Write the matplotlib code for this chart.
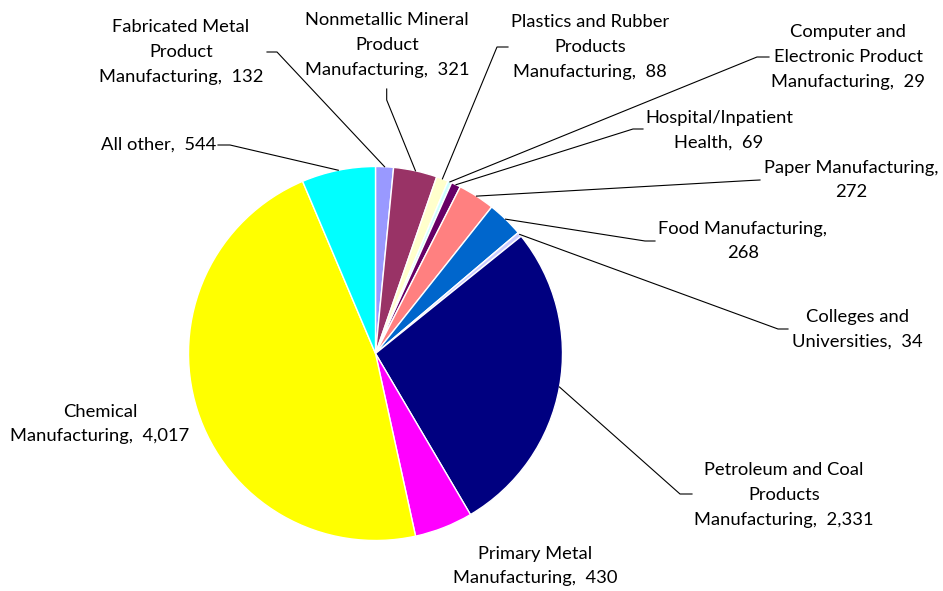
import numpy as np
import matplotlib
matplotlib.use("Agg")
from matplotlib import pyplot as plt

# data, clockwise from 12 o'clock
labels = ['Fabricated Metal\nProduct\nManufacturing,  132',
          'Nonmetallic Mineral\nProduct\nManufacturing,  321',
          'Plastics and Rubber\nProducts\nManufacturing,  88',
          'Computer and\nElectronic Product\nManufacturing,  29',
          'Hospital/Inpatient\nHealth,  69',
          'Paper Manufacturing,\n272',
          'Food Manufacturing,\n268',
          'Colleges and\nUniversities,  34',
          'Petroleum and Coal\nProducts\nManufacturing,  2,331',
          'Primary Metal\nManufacturing,  430',
          'Chemical\nManufacturing,  4,017',
          'All other,  544']
values = [132, 321, 88, 29, 69, 272, 268, 34, 2331, 430, 4017, 544]
colors = ['#9999FF', '#993366', '#FFFFCC', '#CCFFFF', '#660066', '#FF8080',
          '#0066CC', '#CCCCFF', '#000080', '#FF00FF', '#FFFF00', '#00FFFF']

# label layout in pixels (x, y from top), leader elbow and end (None = no leader)
W, H = 943, 591
label_pos = [(181, 52), (387, 45), (590, 47), (848, 57), (719, 130), (851, 180),
             (743, 241), (857, 329), (784, 495), (535, 566), (100, 424), (159, 145)]
leaders = [((277, 52), (267, 52)),
           ((386.7, 100), (386.7, 89)),
           ((497, 47), (508, 47)),
           ((757, 57), (769, 57)),
           ((633, 129), (643, 129)),
           ((750, 180.5), (760, 180)),
           ((645, 241), (655, 241)),
           ((778, 329), (788, 329)),
           ((680, 494), (692, 494)),
           None,
           None,
           ((230, 145), (218, 145))]

plt.rcParams['font.family'] = ['Lato', 'DejaVu Sans']

fig = plt.figure(figsize=(W / 100, H / 100), dpi=100)
ax = fig.add_axes([0, 0, 1, 1])

cx, cy, r = 375.5, H - 353.5, 187
wedges, _ = ax.pie(values, colors=colors, startangle=90, counterclock=False,
                   center=(cx, cy), radius=r,
                   wedgeprops=dict(edgecolor='white', linewidth=1.0))

for w, lab, pos, ld in zip(wedges, labels, label_pos, leaders):
    ax.text(pos[0], H - pos[1], lab, ha='center', va='center',
            multialignment='center', fontsize=13.2, linespacing=1.68, color='black')
    if ld is None:
        continue
    ang = np.deg2rad((w.theta1 + w.theta2) / 2)
    ex, ey = cx + r * np.cos(ang), cy + r * np.sin(ang)
    xs = [ex, ld[0][0], ld[1][0]]
    ys = [ey, H - ld[0][1], H - ld[1][1]]
    ax.plot(xs, ys, color='black', lw=0.8)

ax.set_xlim(0, W)
ax.set_ylim(0, H)
ax.set_aspect('equal')
ax.axis('off')

fig.savefig('out.png', dpi=100, facecolor='white')
